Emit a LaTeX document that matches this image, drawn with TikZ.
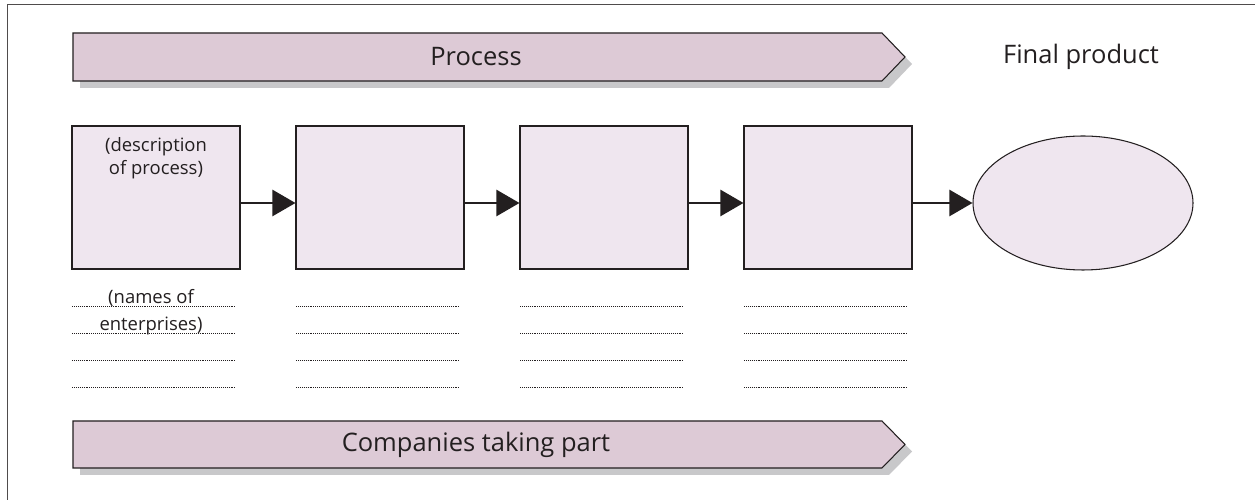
\documentclass[tikz,border=0pt]{standalone}
\usepackage{fontspec}
\setmainfont{Open Sans}
\usepackage{tikz}
\usetikzlibrary{shadows,shapes.geometric,arrows.meta,positioning}

\definecolor{ink}{RGB}{35,31,32}
\definecolor{bannerpink}{RGB}{221,202,214}
\definecolor{stagepink}{RGB}{239,230,239}
\definecolor{shadowgrey}{RGB}{200,200,202}

\tikzset{
  banner/.style={fill=bannerpink, draw=ink, line width=0.6pt,
    drop shadow={shadow xshift=0.14cm, shadow yshift=-0.14cm, fill=shadowgrey, opacity=1}},
  bannertext/.style={text=ink, font=\fontsize{14.5}{16}\selectfont, inner sep=0pt},
  stage/.style={rectangle, fill=stagepink, draw=ink, line width=0.6pt,
    minimum width=3.36cm, minimum height=2.86cm, inner sep=0pt},
  product/.style={ellipse, fill=stagepink, draw=ink, line width=0.6pt,
    minimum width=4.4cm, minimum height=2.68cm, inner sep=0pt},
  flow/.style={-{Triangle[length=0.46cm,width=0.52cm]}, ink, line width=1.4pt},
  dots/.style={ink, line width=0.5pt, dash pattern=on 0.5pt off 0.6pt},
  small note/.style={text=ink, font=\fontsize{10.5}{13}\selectfont, align=center, inner sep=0pt}
}

\begin{document}
\begin{tikzpicture}
\useasboundingbox (0cm,0cm) rectangle (25.1cm,-10cm);
\fill[white] (0cm,0cm) rectangle (25.1cm,-10cm);
\draw[ink!80, line width=0.8pt] (0.15cm,-10cm) -- (0.15cm,-0.09cm) -- (25.1cm,-0.09cm);

% top and bottom banners
\path[banner] (1.46cm,-0.66cm) -- (17.64cm,-0.66cm) -- (18.1cm,-1.14cm) -- (17.64cm,-1.62cm) -- (1.46cm,-1.62cm) -- cycle;
\node[bannertext] (proc) at (9.52cm,-1.14cm) {Process};
\path[banner] (1.46cm,-8.42cm) -- (17.64cm,-8.42cm) -- (18.1cm,-8.89cm) -- (17.64cm,-9.36cm) -- (1.46cm,-9.36cm) -- cycle;
\node[bannertext] (comp) at (9.52cm,-8.89cm) {Companies taking part};

% stages and product
\node[stage] (s1) at (3.12cm,-3.95cm) {};
\node[stage] (s2) at (7.60cm,-3.95cm) {};
\node[stage] (s3) at (12.08cm,-3.95cm) {};
\node[stage] (s4) at (16.56cm,-3.95cm) {};
\node[product] (prod) at (21.66cm,-4.06cm) {};
\node[bannertext, anchor=base] (final) at (21.62cm,-1.28cm) {Final product};
\node[small note, below=0.24cm of s1.north] (desc) {(description\\of process)};

\draw[flow] (s1.east |- prod) -- (s2.west |- prod);
\draw[flow] (s2.east |- prod) -- (s3.west |- prod);
\draw[flow] (s3.east |- prod) -- (s4.west |- prod);
\draw[flow] (s4.east |- prod) -- (prod.west);

% lines for the names
\draw[dots] (1.44cm,-6.12cm) -- (4.72cm,-6.12cm);
\draw[dots] (1.44cm,-6.66cm) -- (4.72cm,-6.66cm);
\draw[dots] (1.44cm,-7.20cm) -- (4.72cm,-7.20cm);
\draw[dots] (1.44cm,-7.74cm) -- (4.72cm,-7.74cm);
\draw[dots] (5.92cm,-6.12cm) -- (9.20cm,-6.12cm);
\draw[dots] (5.92cm,-6.66cm) -- (9.20cm,-6.66cm);
\draw[dots] (5.92cm,-7.20cm) -- (9.20cm,-7.20cm);
\draw[dots] (5.92cm,-7.74cm) -- (9.20cm,-7.74cm);
\draw[dots] (10.40cm,-6.12cm) -- (13.68cm,-6.12cm);
\draw[dots] (10.40cm,-6.66cm) -- (13.68cm,-6.66cm);
\draw[dots] (10.40cm,-7.20cm) -- (13.68cm,-7.20cm);
\draw[dots] (10.40cm,-7.74cm) -- (13.68cm,-7.74cm);
\draw[dots] (14.88cm,-6.12cm) -- (18.16cm,-6.12cm);
\draw[dots] (14.88cm,-6.66cm) -- (18.16cm,-6.66cm);
\draw[dots] (14.88cm,-7.20cm) -- (18.16cm,-7.20cm);
\draw[dots] (14.88cm,-7.74cm) -- (18.16cm,-7.74cm);
\node[small note, anchor=base] (names) at (3.02cm,-6.08cm) {(names of};
\node[small note, anchor=base] (ents) at (3.02cm,-6.62cm) {enterprises)};
\end{tikzpicture}
\end{document}
